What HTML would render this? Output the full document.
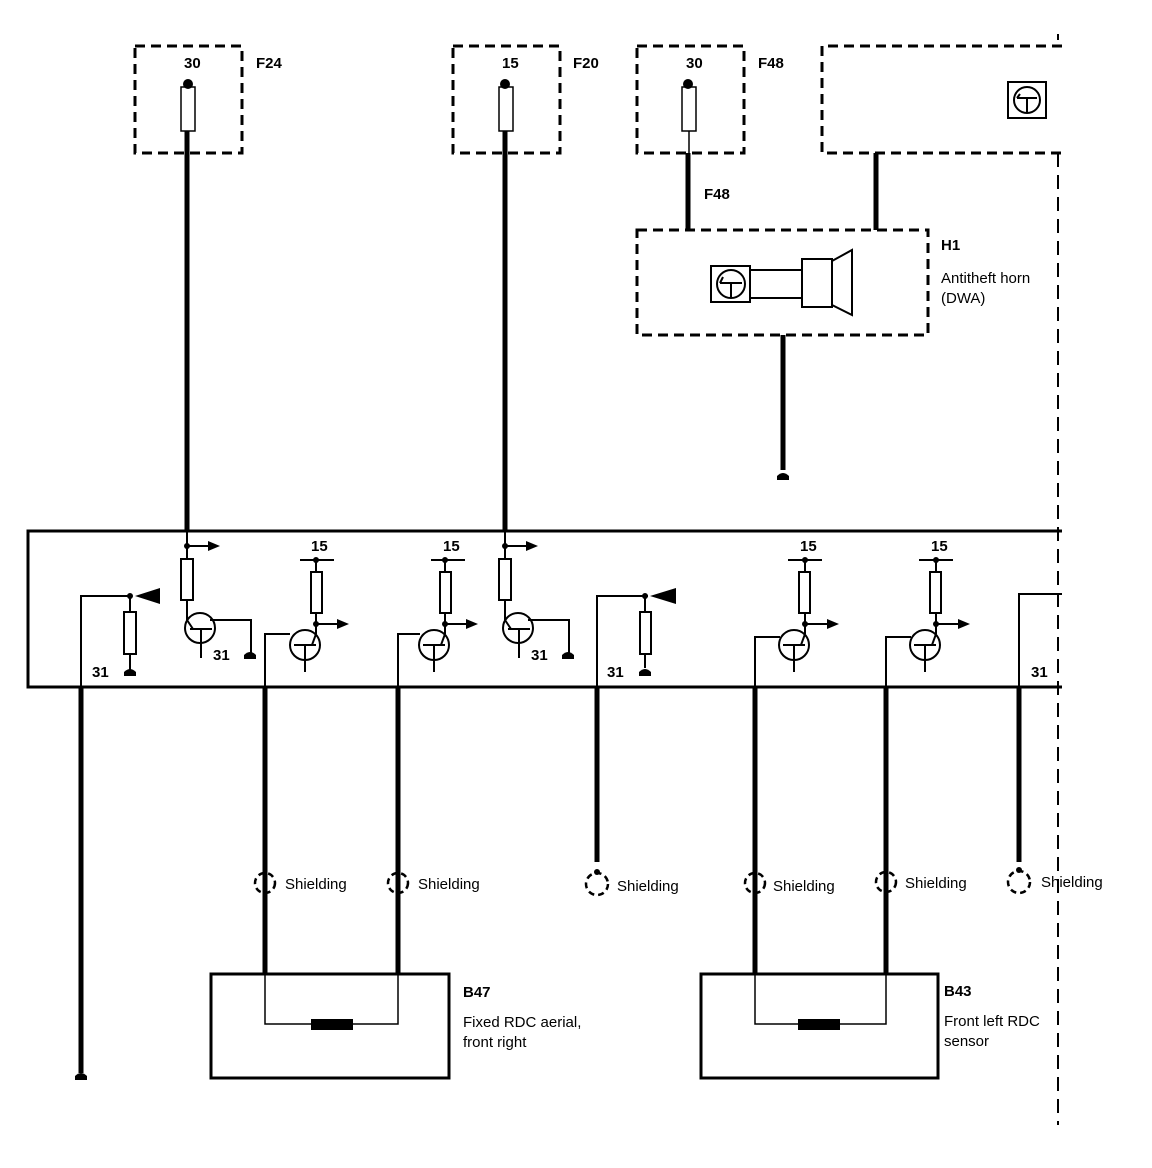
<!DOCTYPE html>
<html><head><meta charset="utf-8"><style>
html,body{margin:0;padding:0;background:#fff;}
svg{display:block;}
text{font-family:"Liberation Sans",Arial,sans-serif;font-size:15px;fill:#000;}
.b{font-weight:bold;}
</style></head><body>
<svg width="1152" height="1168" viewBox="0 0 1152 1168" xmlns="http://www.w3.org/2000/svg">
<defs>
<marker id="ar" markerWidth="12" markerHeight="12" refX="0" refY="5" orient="auto" markerUnits="userSpaceOnUse"><path d="M0,0 L12,5 L0,10 Z" fill="#000"/></marker>
</defs>
<g fill="none" stroke="#000">
<g stroke-width="3" stroke-dasharray="10,6">
<rect x="135" y="46" width="107" height="107"/>
<rect x="453" y="46" width="107" height="107"/>
<rect x="637" y="46" width="107" height="107"/>
<path d="M1062,46 H822 V153 H1062"/>
<rect x="637" y="230" width="291" height="105"/>
</g>
<path d="M1058,153 V1125" stroke-width="2" stroke-dasharray="14,8"/>
<path d="M1058,34 V40" stroke-width="2"/>
<g stroke-width="1.5">
<rect x="181" y="87" width="14" height="44"/>
<rect x="499" y="87" width="14" height="44"/>
<rect x="682" y="87" width="14" height="44"/>
<path d="M689,131 V153"/>
</g>
<g stroke-width="5">
<path d="M187,131 V531"/>
<path d="M505,131 V531"/>
<path d="M688,153 V230"/>
<path d="M876,153 V230"/>
<path d="M783,335 V470"/>
<path d="M81,687 V1073"/>
<path d="M265,687 V975"/>
<path d="M398,687 V975"/>
<path d="M597,687 V862"/>
<path d="M755,687 V975"/>
<path d="M886,687 V975"/>
<path d="M1019,687 V862"/>
</g>
<path d="M1062,531 H28 V687 H1062" stroke-width="3"/>
<rect x="1008" y="82" width="38" height="36" stroke-width="2"/>
<circle cx="1027" cy="100" r="13" stroke-width="2"/>
<path d="M1017,98 H1037 M1027,98 V113 M1020,94 L1017,98" stroke-width="2"/>
<rect x="711" y="266" width="39" height="36" stroke-width="2"/>
<circle cx="731" cy="284" r="14" stroke-width="2"/>
<path d="M720,283 H742 M731,283 V297 M723,277 L720,283" stroke-width="2"/>
<rect x="750" y="270" width="52" height="28" stroke-width="2"/>
<rect x="802" y="259" width="30" height="48" stroke-width="2"/>
<path d="M832,261 L852,250 V315 L832,305" stroke-width="2"/>
<g stroke-width="2">
<path d="M81,687 V596 H128"/>
<path d="M130,596 V612 M130,654 V672"/>
<rect x="124" y="612" width="12" height="42"/>
<path d="M597,687 V596 H648"/>
<path d="M645,596 V612 M645,654 V668"/>
<rect x="640" y="612" width="11" height="42"/>
<path d="M1019,687 V594 H1062"/>
</g>
<g stroke-width="2">
<path d="M187,546 H208" marker-end="url(#ar)"/>
<rect x="181" y="559" width="12" height="41"/>
<path d="M187,531 V559 M187,600 V622"/>
<circle cx="200" cy="628" r="15"/>
<path d="M190,629 H212 M201,629 V658 M210,620 L251,620 V653 M187,620 L193,629"/>
<path d="M505,546 H526" marker-end="url(#ar)"/>
<rect x="499" y="559" width="12" height="41"/>
<path d="M505,531 V559 M505,600 V622"/>
<circle cx="518" cy="628" r="15"/>
<path d="M508,629 H530 M519,629 V658 M528,620 L569,620 V653 M505,620 L511,629"/>
</g>
<g stroke-width="2">
<path d="M300,560 H334 M316,560 V572 M316,613 V634"/>
<rect x="311" y="572" width="11" height="41"/>
<path d="M316,624 H337" marker-end="url(#ar)"/>
<circle cx="305" cy="645" r="15"/>
<path d="M265,687 V634 H290 M294,645 H316 M305,645 V672 M316,634 L312,645"/>
<path d="M431,560 H465 M445,560 V572 M445,613 V634"/>
<rect x="440" y="572" width="11" height="41"/>
<path d="M445,624 H466" marker-end="url(#ar)"/>
<circle cx="434" cy="645" r="15"/>
<path d="M398,687 V634 H420 M423,645 H445 M434,645 V672 M445,634 L441,645"/>
<path d="M788,560 H822 M805,560 V572 M805,613 V634"/>
<rect x="799" y="572" width="11" height="41"/>
<path d="M805,624 H827" marker-end="url(#ar)"/>
<circle cx="794" cy="645" r="15"/>
<path d="M755,687 V637 H780 M783,645 H805 M794,645 V672 M805,634 L801,645"/>
<path d="M919,560 H953 M936,560 V572 M936,613 V634"/>
<rect x="930" y="572" width="11" height="41"/>
<path d="M936,624 H958" marker-end="url(#ar)"/>
<circle cx="925" cy="645" r="15"/>
<path d="M886,687 V637 H911 M914,645 H936 M925,645 V672 M936,634 L932,645"/>
</g>
<g stroke-width="3">
<rect x="211" y="974" width="238" height="104"/>
<rect x="701" y="974" width="237" height="104"/>
</g>
<g stroke-width="1.5">
<path d="M265,974 V1024 H398 V974"/>
<path d="M755,974 V1024 H886 V974"/>
</g>
<g stroke-width="2.5" stroke-dasharray="6,4">
<circle cx="265" cy="883" r="10"/>
<circle cx="398" cy="883" r="10"/>
<circle cx="597" cy="884" r="11"/>
<circle cx="755" cy="883" r="10"/>
<circle cx="886" cy="882" r="10"/>
<circle cx="1019" cy="882" r="11"/>
</g>
</g>
<g fill="#000">
<circle cx="188" cy="84" r="5"/><circle cx="505" cy="84" r="5"/><circle cx="688" cy="84" r="5"/>
<circle cx="187" cy="546" r="3"/><circle cx="505" cy="546" r="3"/>
<circle cx="130" cy="596" r="3"/><circle cx="645" cy="596" r="3"/>
<circle cx="316" cy="560" r="3"/><circle cx="316" cy="624" r="3"/>
<circle cx="445" cy="560" r="3"/><circle cx="445" cy="624" r="3"/>
<circle cx="805" cy="560" r="3"/><circle cx="805" cy="624" r="3"/>
<circle cx="936" cy="560" r="3"/><circle cx="936" cy="624" r="3"/>
<path d="M135,596 L160,588 V604 Z"/><path d="M650,596 L676,588 V604 Z"/>
<path d="M124,676 H136 V672 Q130,666 124,672 Z"/>
<path d="M639,676 H651 V672 Q645,666 639,672 Z"/>
<path d="M244,659 H256 V655 Q250,649 244,655 Z"/>
<path d="M562,659 H574 V655 Q568,649 562,655 Z"/>
<path d="M777,480 H789 V476 Q783,470 777,476 Z"/>
<path d="M75,1080 H87 V1076 Q81,1070 75,1076 Z"/>
<rect x="311" y="1019" width="42" height="11"/>
<rect x="798" y="1019" width="42" height="11"/>
<circle cx="597" cy="872" r="3"/><circle cx="1019" cy="870" r="3"/>
</g>
<text class="b" x="184" y="68">30</text><text class="b" x="256" y="68">F24</text>
<text class="b" x="502" y="68">15</text><text class="b" x="573" y="68">F20</text>
<text class="b" x="686" y="68">30</text><text class="b" x="758" y="68">F48</text>
<text class="b" x="704" y="199">F48</text>
<text class="b" x="941" y="250">H1</text>
<text x="941" y="283">Antitheft horn</text>
<text x="941" y="303">(DWA)</text>
<text class="b" x="311" y="551">15</text><text class="b" x="443" y="551">15</text>
<text class="b" x="800" y="551">15</text><text class="b" x="931" y="551">15</text>
<text class="b" x="92" y="677">31</text><text class="b" x="213" y="660">31</text><text class="b" x="531" y="660">31</text>
<text class="b" x="607" y="677">31</text><text class="b" x="1031" y="677">31</text>
<text x="285" y="889">Shielding</text><text x="418" y="889">Shielding</text>
<text x="617" y="891">Shielding</text><text x="773" y="891">Shielding</text>
<text x="905" y="888">Shielding</text><text x="1041" y="887">Shielding</text>
<text class="b" x="463" y="997">B47</text>
<text x="463" y="1027">Fixed RDC aerial,</text>
<text x="463" y="1047">front right</text>
<text class="b" x="944" y="996">B43</text>
<text x="944" y="1026">Front left RDC</text>
<text x="944" y="1046">sensor</text>
</svg>
</body></html>
